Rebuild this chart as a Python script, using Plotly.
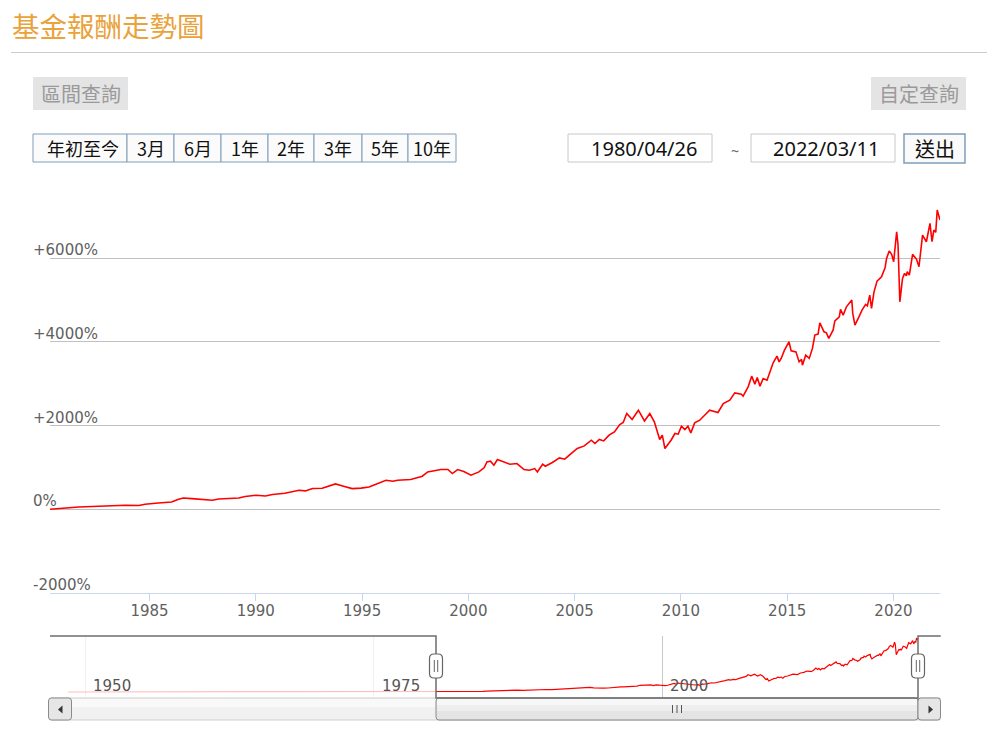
import plotly.graph_objects as go

# ---------------- data ----------------
dates = [
    "1948-07-15",
    "1980-04-26", "1981-09-01", "1982-12-01", "1983-11-15", "1984-07-01", "1984-10-15",
    "1985-06-01", "1986-01-15", "1986-05-01", "1986-08-01", "1987-01-01", "1987-06-15",
    "1987-12-15", "1988-04-01", "1989-03-15", "1989-07-01", "1990-01-01", "1990-06-15",
    "1990-10-15", "1991-05-15", "1992-01-15", "1992-05-01", "1992-09-01", "1993-02-15",
    "1993-06-15", "1993-10-01", "1994-02-01", "1994-07-15", "1994-12-15", "1995-05-01",
    "1995-07-15", "1996-02-15", "1996-06-15", "1996-09-01", "1997-04-15", "1997-08-15",
    "1997-11-01", "1998-02-01", "1998-04-15", "1998-09-15", "1999-01-15", "1999-04-01",
    "1999-07-01", "1999-10-15", "2000-02-15", "2000-04-15", "2000-07-01", "2000-10-01",
    "2000-11-15", "2001-01-15", "2001-03-15", "2001-05-15", "2001-09-15", "2001-12-15",
    "2002-04-15", "2002-08-15", "2002-11-15", "2003-02-15", "2003-04-01", "2003-07-01",
    "2003-08-15", "2003-12-15", "2004-04-15", "2004-07-15", "2004-10-01", "2005-02-15",
    "2005-06-15", "2005-10-15", "2005-12-15", "2006-03-01", "2006-05-15", "2006-08-15",
    "2006-11-15", "2007-02-15", "2007-04-15", "2007-06-15", "2007-09-15", "2008-01-01",
    "2008-04-15", "2008-07-15", "2008-10-01", "2009-01-01", "2009-02-15", "2009-04-01",
    "2009-07-15", "2009-09-20", "2009-11-15", "2010-01-10", "2010-03-10", "2010-05-01",
    "2010-06-20", "2010-08-25", "2010-11-20", "2011-01-20", "2011-05-10", "2011-09-30",
    "2011-12-30", "2012-04-20", "2012-07-15", "2012-11-05", "2012-12-05", "2013-03-01",
    "2013-05-01", "2013-06-25", "2013-08-05", "2013-09-20", "2013-11-15", "2014-01-20",
    "2014-05-05", "2014-07-10", "2014-08-15", "2014-09-20", "2014-11-15", "2015-02-01",
    "2015-03-10", "2015-06-01", "2015-07-25", "2015-09-05", "2015-09-20", "2015-11-15",
    "2016-01-15", "2016-03-10", "2016-04-20", "2016-06-15", "2016-07-15", "2016-09-25",
    "2016-11-05", "2016-12-15", "2017-02-28", "2017-03-30", "2017-06-15", "2017-07-05",
    "2017-08-20", "2017-10-15", "2018-01-15", "2018-02-01", "2018-03-10", "2018-05-20",
    "2018-07-10", "2018-09-10", "2018-10-10", "2018-11-20", "2018-12-20", "2019-02-01",
    "2019-03-25", "2019-06-10", "2019-08-10", "2019-09-05", "2019-10-20", "2019-12-01",
    "2020-01-05", "2020-02-25", "2020-03-20", "2020-04-20", "2020-06-05", "2020-07-10",
    "2020-08-10", "2020-08-25", "2020-09-30", "2020-11-25", "2021-01-30", "2021-03-15",
    "2021-05-15", "2021-07-20", "2021-09-20", "2021-10-25", "2021-11-25", "2021-12-28",
    "2022-01-22", "2022-03-11",
]
returns = [
    0,
    0, 55, 80, 96, 88, 120,
    150, 175, 232, 270, 255, 240,
    215, 246, 270, 303, 335, 318,
    351, 382, 454, 438, 494, 502,
    557, 605, 557, 494, 505, 533,
    574, 693, 669, 693, 710, 748,
    789, 892, 916, 949, 949, 853,
    949, 901, 813, 853, 892, 996,
    1130, 1147, 1052, 1188, 1130, 1076,
    1092, 949, 932, 972, 892, 1076,
    1028, 1116, 1226, 1195, 1291, 1451,
    1513, 1649, 1570, 1666, 1632, 1769,
    1848, 2024, 2072, 2287, 2144, 2366,
    2110, 2287, 2087, 1666, 1769, 1451,
    1649, 1809, 1793, 1984, 1905, 1984,
    1824, 2063, 2127, 2206, 2366, 2311,
    2526, 2605, 2780, 2749, 2701, 2923,
    3179, 2988, 3148, 2940, 3124, 3083,
    3497, 3657, 3520, 3602, 3800, 3999,
    3783, 3759, 3520, 3578, 3442, 3681,
    3602, 3841, 4159, 4183, 4453, 4237,
    4214, 4080, 4278, 4500, 4596, 4773,
    4637, 4835, 4995, 4677, 4398, 4600,
    4756, 4892, 4859, 5115, 4797, 5193,
    5449, 5552, 5767, 5992, 6166, 6087,
    5911, 6627, 6310, 4954, 5514, 5633,
    5576, 5672, 5593, 6087, 5975, 5791,
    6549, 6389, 6828, 6389, 6668, 6613,
    7146, 6907,
]

view_start, view_end = "1980-04-26", "2022-03-11"
nav_start, nav_end = "1946-12-20", "2024-02-03"
y_tick_vals = [-2000, 0, 2000, 4000, 6000]
y_tick_text = ["-2000%", "0%", "+2000%", "+4000%", "+6000%"]
nav_tick_vals = ["1950-01-01", "1975-01-01", "2000-01-01"]
nav_tick_text = ["1950", "1975", "2000"]
range_buttons = ["年初至今", "3月", "6月", "1年", "2年", "3年", "5年", "10年"]
title_text = "基金報酬走勢圖"
start_text, end_text = "1980/04/26", "2022/03/11"

# ---------------- geometry helpers (pixels -> paper) ----------------
W, H = 995, 741
L, R = 50, 940


def px(x):
    return (x - L) / (R - L)


def py(y):
    return (H - y) / H


CJK = "Noto Sans CJK TC"
LAT = "DejaVu Sans"

fig = go.Figure()
fig.add_trace(go.Scatter(x=dates, y=returns, mode="lines", xaxis="x", yaxis="y",
                         line=dict(color="#ff0000", width=1.6), hoverinfo="skip",
                         showlegend=False))
fig.add_trace(go.Scatter(x=dates, y=returns, mode="lines", xaxis="x2", yaxis="y2",
                         line=dict(color="#ff0000", width=1.2), hoverinfo="skip",
                         showlegend=False))

shapes = []
annotations = []


def rect(x0, y0, x1, y1, fill="rgba(0,0,0,0)", line=None, lw=1, layer="above"):
    shapes.append(dict(type="rect", xref="paper", yref="paper",
                       x0=px(x0), x1=px(x1), y0=py(y1), y1=py(y0),
                       fillcolor=fill, layer=layer,
                       line=dict(color=line or "rgba(0,0,0,0)", width=lw if line else 0)))


def seg(x0, y0, x1, y1, color, lw=1):
    shapes.append(dict(type="line", xref="paper", yref="paper",
                       x0=px(x0), x1=px(x1), y0=py(y0), y1=py(y1), layer="above",
                       line=dict(color=color, width=lw)))


def pathp(pts, close=True):
    s = "M " + " L ".join(f"{px(a):.5f},{py(b):.5f}" for a, b in pts)
    return s + (" Z" if close else "")


def rrect(x0, y0, x1, y1, r, fill, line, lw=1):
    P = lambda a, b: f"{px(a):.5f},{py(b):.5f}"
    d = (f"M {P(x0 + r, y0)} L {P(x1 - r, y0)} Q {P(x1, y0)} {P(x1, y0 + r)} "
         f"L {P(x1, y1 - r)} Q {P(x1, y1)} {P(x1 - r, y1)} L {P(x0 + r, y1)} "
         f"Q {P(x0, y1)} {P(x0, y1 - r)} L {P(x0, y0 + r)} Q {P(x0, y0)} {P(x0 + r, y0)} Z")
    shapes.append(dict(type="path", xref="paper", yref="paper", path=d, layer="above",
                       fillcolor=fill, line=dict(color=line, width=lw)))


def text(x, y, t, size, color, family=CJK, xanchor="center", yanchor="middle", xref="paper"):
    annotations.append(dict(x=x if xref != "paper" else px(x), y=py(y), xref=xref, yref="paper",
                            text=t, showarrow=False, xanchor=xanchor, yanchor=yanchor,
                            font=dict(size=size, color=color, family=family)))


# ---------------- header ----------------
text(10, 24.5, title_text, 27.5, "#eaa23a", xanchor="left")
seg(11, 52.5, 987, 52.5, "#cccccc", 1)

rect(33, 77, 128, 110, fill="#e4e4e4")
text(80.5, 93.5, "區間查詢", 20, "#9a9a9a")
rect(871, 77, 966, 110, fill="#e4e4e4")
text(918.5, 93.5, "自定查詢", 20, "#9a9a9a")

edges = [33, 127, 174, 221, 268, 314, 362, 408, 456]
for i, lab in enumerate(range_buttons):
    rect(edges[i], 134, edges[i + 1], 162, fill="#fbfbfb", line="#7f9db9", lw=1)
    text((edges[i] + edges[i + 1]) / 2 + (3 if i == 0 else 0), 148.5, lab, 18, "#111111")

rect(568, 134, 712, 162, fill="#ffffff", line="#c8c8c8", lw=1)
text(644, 148.5, start_text, 20, "#111111", family="Noto Sans")
text(735, 150.5, "~", 14, "#666666", family="Noto Sans")
rect(751, 134, 895, 162, fill="#ffffff", line="#c8c8c8", lw=1)
text(826, 148.5, end_text, 20, "#111111", family="Noto Sans")
rect(904, 134, 965, 163, fill="#fafafa", line="#7f9db9", lw=1.5)
text(934.5, 148.5, "送出", 20, "#111111")

# ---------------- y labels (main) ----------------
for v, t in zip(y_tick_vals, y_tick_text):
    annotations.append(dict(x=px(31), y=v, xref="paper", yref="y", text=t, showarrow=False,
                            xanchor="left", yanchor="bottom", yshift=-3,
                            font=dict(size=15, color="#606060", family=LAT)))

# ---------------- navigator ----------------
NT, NB = 636, 697
rect(L, NT, 436, NB, fill="rgba(255,255,255,0.75)")
rect(918, NT, R, NB, fill="rgba(255,255,255,0.75)")
for v, t in zip(nav_tick_vals, nav_tick_text):
    annotations.append(dict(x=v, y=py(685.5), xref="x2", yref="paper", text=t, showarrow=False,
                            xanchor="left", yanchor="middle", xshift=6,
                            font=dict(size=15, color="#555555", family=LAT)))

# scrollbar
SB0, SB1 = 698, 720
rect(L, SB0, R, SB1, fill="#f1f1f1", line="#cfcfcf", lw=1)
rect(L + 1, SB0 + 1, R - 1, SB0 + 9, fill="#f9f9f9")
rrect(436, SB0, 918, SB1, 3, "#e4e4e4", "#8a8a8a", 1)
rect(437, SB0 + 1, 917, SB0 + 7, fill="#f7f7f7")
rect(437, SB0 + 7, 917, SB0 + 13, fill="#eeeeee")
for gx in (672.5, 677, 681.5):
    seg(gx, 705, gx, 713, "#555555", 1)
rrect(48.5, SB0, 71.5, SB1, 3, "#e6e6e6", "#8a8a8a", 1)
shapes.append(dict(type="path", xref="paper", yref="paper", layer="above",
                   path=pathp([(58, 709.5), (62.5, 705.5), (62.5, 713.5)]),
                   fillcolor="#333333", line=dict(width=0)))
rrect(918, SB0, 940.5, SB1, 3, "#e6e6e6", "#8a8a8a", 1)
shapes.append(dict(type="path", xref="paper", yref="paper", layer="above",
                   path=pathp([(933, 709.5), (928.5, 705.5), (928.5, 713.5)]),
                   fillcolor="#333333", line=dict(width=0)))

# outline
shapes.append(dict(type="path", xref="paper", yref="paper", layer="above",
                   path=pathp([(L, NT), (436, NT), (436, SB0), (918, SB0), (918, NT), (940.7, NT)],
                              close=False),
                   line=dict(color="#6e6e6e", width=1.5)))
# handles
for hc in (436, 918):
    rrect(hc - 6.5, 654, hc + 6.5, 678, 4.5, "#ffffff", "#666666", 1.2)
    seg(hc - 1.7, 660, hc - 1.7, 672, "#666666", 1)
    seg(hc + 1.7, 660, hc + 1.7, 672, "#666666", 1)

fig.update_layout(
    width=W, height=H,
    margin=dict(l=L, r=W - R, t=0, b=0, pad=0, autoexpand=False),
    paper_bgcolor="#ffffff", plot_bgcolor="#ffffff",
    showlegend=False,
    xaxis=dict(domain=[0, 1], anchor="y", type="date", range=[view_start, view_end],
               tick0="1985-01-01", dtick="M60", tickformat="%Y",
               ticks="outside", ticklen=7, tickcolor="#ccd6eb", tickwidth=1,
               ticklabelstandoff=-3,
               showline=True, linecolor="#ccd6eb", linewidth=1, showgrid=False,
               zeroline=False, tickfont=dict(size=15, color="#606060", family=LAT),
               fixedrange=True),
    yaxis=dict(domain=[py(593), py(185)], anchor="x", range=[-2000, 7744],
               tickvals=y_tick_vals, showticklabels=False, showgrid=True,
               gridcolor="#c0c0c0", gridwidth=1, zeroline=False, showline=False,
               ticks="", fixedrange=True),
    xaxis2=dict(domain=[0, 1], anchor="y2", type="date", range=[nav_start, nav_end],
                tickvals=nav_tick_vals, showticklabels=False, showgrid=True,
                gridcolor="#c8c8c8", gridwidth=1, zeroline=False, showline=False,
                ticks="", fixedrange=True),
    yaxis2=dict(domain=[py(NB), py(NT)], anchor="x2", range=[-664, 7437],
                showgrid=False, showticklabels=False, zeroline=False, showline=False,
                ticks="", fixedrange=True),
    shapes=shapes,
    annotations=annotations,
)

fig.write_html("out.html", config={"displayModeBar": False})
